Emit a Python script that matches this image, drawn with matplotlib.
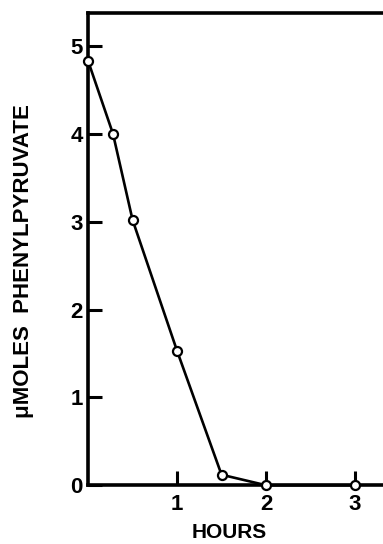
import matplotlib
matplotlib.use("Agg")
import matplotlib.pyplot as plt

hours = [0.0, 0.28, 0.5, 1.0, 1.5, 2.0, 3.0]
umoles = [4.83, 4.0, 3.02, 1.53, 0.12, 0.0, 0.0]
xticks = [1, 2, 3]
yticks = [0, 1, 2, 3, 4, 5]

plt.rcParams["font.family"] = ["Liberation Sans", "DejaVu Sans"]

fig = plt.figure(figsize=(3.83, 5.44), dpi=100)
ax = fig.add_axes([0.23, 0.108, 0.77, 0.868])

ax.plot(hours, umoles, color="black", linewidth=1.9, marker="o", markersize=6.5,
        markerfacecolor="white", markeredgecolor="black", markeredgewidth=1.6,
        clip_on=False, zorder=3)

ax.set_xlim(0, 3.315)
ax.set_ylim(0, 5.375)
ax.set_xticks(xticks)
ax.set_yticks(yticks)
ax.set_xticklabels(["1", "2", "3"], fontweight="bold")
ax.set_yticklabels([str(t) for t in yticks], fontweight="bold")
ax.tick_params(direction="in", length=10, width=2.2, labelsize=16, pad=6)
ax.tick_params(axis="y", pad=4)

for side in ["left", "bottom", "top"]:
    ax.spines[side].set_linewidth(2.6)
ax.spines["right"].set_visible(False)

ax.set_xlabel("HOURS", fontsize=15, fontweight="bold")
ax.xaxis.set_label_coords(0.48, -0.079)
ax.set_ylabel("\u03bcMOLES  PHENYLPYRUVATE", fontsize=16, fontweight="bold")
ax.yaxis.set_label_coords(-0.185, 0.474)

plt.savefig("out.png", dpi=100)
